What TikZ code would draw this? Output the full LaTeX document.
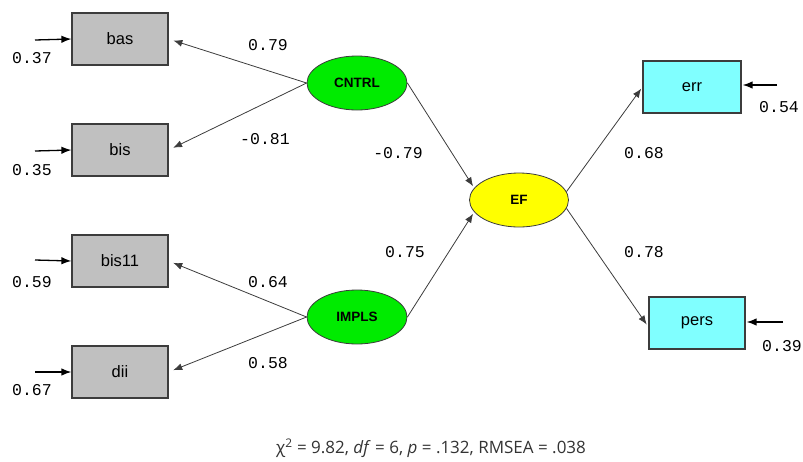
\documentclass[tikz,border=0pt]{standalone}
\usepackage{fontspec}
\setmainfont{Liberation Sans}
\setmonofont{Liberation Mono}
\newfontfamily\capfont{Open Sans}
\usepackage{tikz}
\usetikzlibrary{arrows.meta}
\usetikzlibrary{shapes.geometric}
\definecolor{boxgray}{RGB}{192, 192, 192}
\definecolor{latgreen}{RGB}{0, 235, 0}
\definecolor{latyellow}{RGB}{255, 255, 0}
\definecolor{obscyan}{RGB}{128, 255, 255}
\definecolor{linegray}{RGB}{60, 60, 60}

\begin{document}
\begin{tikzpicture}[x=1pt,y=-1pt,
    obs/.style={draw=linegray,line width=1.2pt,minimum width=96pt,minimum height=52pt,
      font=\fontsize{16.5}{16.5}\selectfont},
    lat/.style={ellipse,draw=linegray,line width=0.8pt,minimum width=100pt,minimum height=54pt,
      inner sep=0pt,font=\bfseries\fontsize{13.5}{13.5}\selectfont},
    coef/.style={font=\ttfamily\fontsize{16.5}{16.5}\selectfont},
    errarrow/.style={-{Latex[length=10pt,width=7.5pt]},line width=1.3pt,draw=black},
    path/.style={-{Latex[length=9pt,width=7pt]},line width=0.8pt,draw=linegray}]
  \useasboundingbox (0,0) rectangle (803,461);
  % observed indicators
  \node[obs,fill=boxgray] (bas) at (120,39) {bas};
  \node[obs,fill=boxgray] (bis) at (120,150) {bis};
  \node[obs,fill=boxgray] (bis11) at (120,261) {bis11};
  \node[obs,fill=boxgray] (dii) at (120,372) {dii};
  \node[obs,fill=obscyan,minimum width=98pt] (err) at (692,87) {err};
  \node[obs,fill=obscyan] (pers) at (697,323) {pers};
  % latent variables
  \node[lat,fill=latgreen] (cntrl) at (357,83) {CNTRL};
  \node[lat,fill=latgreen] (impls) at (357,317) {IMPLS};
  \node[lat,fill=latyellow,minimum width=99pt] (ef) at (519,200) {EF};
  % error terms
  \coordinate (e-bas) at (35,40);
  \coordinate (e-bis) at (35,151);
  \coordinate (e-bis11) at (35,260);
  \coordinate (e-dii) at (35,372);
  \coordinate (e-err) at (777,85);
  \coordinate (e-pers) at (783,322);
  \path
    (e-bas) edge[errarrow] (bas.west)
    (e-bis) edge[errarrow] (bis.west)
    (e-bis11) edge[errarrow] (bis11.west)
    (e-dii) edge[errarrow] (dii.west)
    (e-err) edge[errarrow,shorten >=1pt] (err.east |- e-err)
    (e-pers) edge[errarrow,shorten >=1pt] (pers.east |- e-pers);
  \node[coef] (v-bas) at (32,58) {0.37};
  \node[coef] (v-bis) at (32,170) {0.35};
  \node[coef] (v-bis11) at (32,282) {0.59};
  \node[coef] (v-dii) at (32,390) {0.67};
  \node[coef] (v-err) at (779,107) {0.54};
  \node[coef] (v-pers) at (782,346) {0.39};
  % loadings and paths
  \path
    (cntrl.west) edge[path,shorten >=5pt] (bas.east)
    (cntrl.west) edge[path,shorten >=5pt] (bis.east)
    (impls.west) edge[path,shorten >=5pt] (bis11.east)
    (impls.west) edge[path,shorten >=5pt] (dii.east)
    (cntrl.east) edge[path,shorten >=2pt] (ef.165)
    (impls.east) edge[path,shorten >=2pt] (ef.195)
    (ef.10) edge[path,shorten >=2pt] (err.west)
    (ef.-10) edge[path,shorten >=3pt] ([yshift=-4pt]pers.west);
  \node[coef] (l-bas) at (268,45) {0.79};
  \node[coef] (l-bis) at (265,139) {-0.81};
  \node[coef] (l-bis11) at (268,282) {0.64};
  \node[coef] (l-dii) at (268,363) {0.58};
  \node[coef] (l-cntrl) at (398,153) {-0.79};
  \node[coef] (l-impls) at (405,252) {0.75};
  \node[coef] (l-err) at (644,153) {0.68};
  \node[coef] (l-pers) at (644,252) {0.78};
  % fit indices
  \node[font=\capfont\fontsize{17}{17}\selectfont,text=black!80] (fit) at (431,448)
    {χ\textsuperscript{2} = 9.82, \textit{df} = 6, \textit{p} = .132, RMSEA = .038};
\end{tikzpicture}
\end{document}
